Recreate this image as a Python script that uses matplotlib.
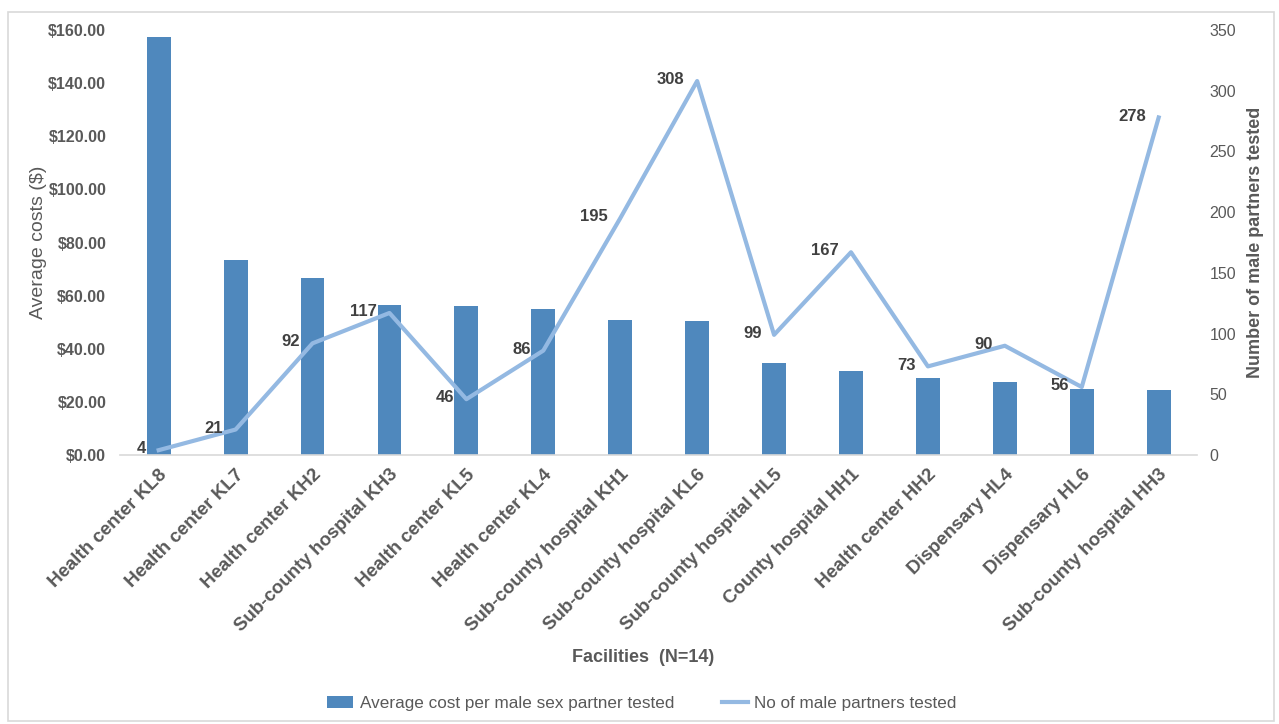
import matplotlib.pyplot as plt
from matplotlib.patches import Rectangle
from matplotlib.ticker import FuncFormatter, MultipleLocator

# Data
facilities = [
    "Health center KL8", "Health center KL7", "Health center KH2",
    "Sub-county hospital KH3", "Health center KL5", "Health center KL4",
    "Sub-county hospital KH1", "Sub-county hospital KL6",
    "Sub-county hospital HL5", "County hospital HH1", "Health center HH2",
    "Dispensary HL4", "Dispensary HL6", "Sub-county hospital HH3",
]
avg_cost = [157.5, 73.5, 66.5, 56.5, 56.0, 55.0, 51.0, 50.5,
            34.5, 31.5, 29.0, 27.5, 25.0, 24.5]
partners_tested = [4, 21, 92, 117, 46, 86, 195, 308, 99, 167, 73, 90, 56, 278]

plt.rcParams["font.family"] = ["Liberation Sans", "DejaVu Sans"]

bar_color = "#4F88BD"
line_color = "#94B9E2"
grey = "#595959"

fig = plt.figure(figsize=(12.79, 7.24), dpi=100)
fig.add_artist(Rectangle((0.006, 0.004), 0.99, 0.98, transform=fig.transFigure,
                         fill=False, edgecolor="#D9D9D9", linewidth=1.2))
ax = fig.add_axes([0.094, 0.3715, 0.842, 0.587])
ax2 = ax.twinx()

x = list(range(len(facilities)))
ax.bar(x, avg_cost, width=0.31, color=bar_color, zorder=2,
       label="Average cost per male sex partner tested")
ax2.plot(x, partners_tested, color=line_color, linewidth=3, zorder=3,
         label="No of male partners tested")
for xi, v in zip(x, partners_tested):
    ax2.annotate(str(v), (xi, v), xytext=(-9, 1), textcoords="offset points",
                 ha="right", va="center", fontsize=12, fontweight="bold",
                 color="#404040")

ax.set_xlim(-0.5, len(facilities) - 0.5)
ax.set_ylim(0, 160)
ax2.set_ylim(0, 350)
ax.yaxis.set_major_locator(MultipleLocator(20))
ax2.yaxis.set_major_locator(MultipleLocator(50))
ax.yaxis.set_major_formatter(FuncFormatter(lambda v, p: f"${v:.2f}"))

for a in (ax, ax2):
    for s in a.spines.values():
        s.set_visible(False)
    a.tick_params(length=0)
ax.spines["bottom"].set_visible(True)
ax.spines["bottom"].set_color("#D9D9D9")
ax.spines["bottom"].set_linewidth(1.2)

ax.set_xticks(x)
ax.set_xticklabels(facilities, rotation=45, ha="right", va="top",
                   rotation_mode="anchor", fontsize=13.5, fontweight="bold",
                   color=grey)
ax.tick_params(axis="x", pad=8)
for lbl in ax.get_yticklabels():
    lbl.set_fontsize(11.5)
    lbl.set_fontweight("bold")
    lbl.set_color(grey)
ax.tick_params(axis="y", pad=10)
for lbl in ax2.get_yticklabels():
    lbl.set_fontsize(11.5)
    lbl.set_color(grey)
ax2.tick_params(axis="y", pad=9)

ax.set_ylabel("Average costs ($)", fontsize=14, color=grey, labelpad=1)
ax2.set_ylabel("Number of male partners tested", fontsize=13, fontweight="bold",
               color=grey, labelpad=8)
fig.text(0.503, 0.092, "Facilities  (N=14)", ha="center", va="center",
         fontsize=13, fontweight="bold", color=grey)

h1, l1 = ax.get_legend_handles_labels()
h2, l2 = ax2.get_legend_handles_labels()
fig.legend(h1 + h2, l1 + l2, loc="center", bbox_to_anchor=(0.502, 0.028), ncol=2,
           frameon=False, prop={"size": 12.3}, labelcolor=grey,
           handlelength=1.5, columnspacing=2.8, handletextpad=0.4)

fig.savefig("out.png", dpi=100)
